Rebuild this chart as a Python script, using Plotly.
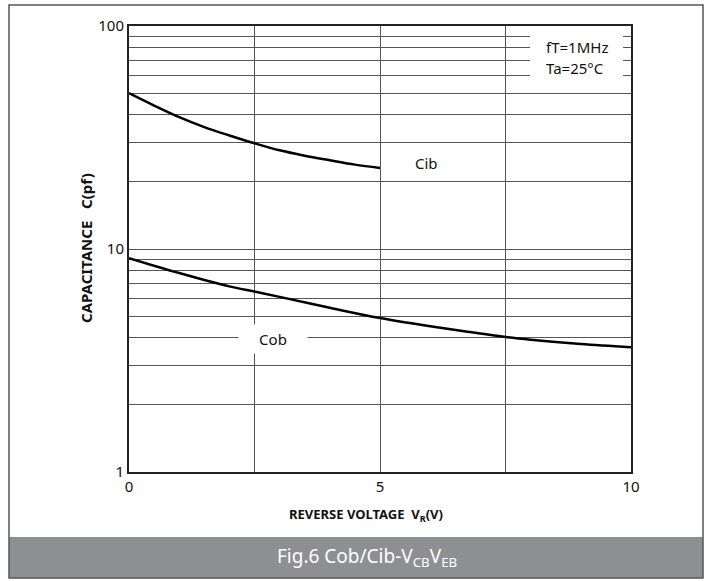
import plotly.graph_objects as go

# Data
cib_v = [0, 0.5, 1, 1.5, 2, 2.5, 3, 3.5, 4, 4.5, 5]
cib_c = [50, 44, 39, 35.2, 32.3, 29.8, 27.7, 26.2, 25.0, 23.9, 23.1]

cob_v = [0, 1, 2, 2.5, 3, 4, 5, 6, 7, 7.5, 8, 9, 10]
cob_c = [9.1, 7.8, 6.8, 6.45, 6.1, 5.45, 4.9, 4.5, 4.18, 4.03, 3.92, 3.75, 3.63]

x_tickvals = [0, 2.5, 5, 7.5, 10]
x_ticktext = ["0", "", "5", "", "10"]
y_tickvals = [1, 2, 3, 4, 5, 6, 7, 8, 9,
              10, 20, 30, 40, 50, 60, 70, 80, 90, 100]
y_ticktext = ["1"] + [""] * 8 + ["10"] + [""] * 8 + ["100"]

FONT = "Noto Sans"

fig = go.Figure()
fig.add_trace(go.Scatter(x=cib_v, y=cib_c, mode="lines", line=dict(color="black", width=2.5, shape="spline"),
                         showlegend=False, hoverinfo="skip"))
fig.add_trace(go.Scatter(x=cob_v, y=cob_c, mode="lines", line=dict(color="black", width=2.5, shape="spline"),
                         showlegend=False, hoverinfo="skip"))

W, H = 712, 581
L, R, T, B = 129, 81, 26, 109
pw, ph = W - L - R, H - T - B

def px(x):
    return (x - L) / pw

def py(y):
    return (H - B - y) / ph

shapes = [
    # white box behind condition text
    dict(type="rect", xref="paper", yref="paper", x0=px(530), x1=px(623), y0=py(82), y1=py(31),
         fillcolor="white", line=dict(width=0), layer="above"),
    # caption bar
    dict(type="rect", xref="paper", yref="paper", x0=px(9), x1=px(703), y0=py(578), y1=py(537),
         fillcolor="#8e8f92", line=dict(width=0), layer="below"),
    # outer frame
    dict(type="rect", xref="paper", yref="paper", x0=px(9), x1=px(703), y0=py(578), y1=py(5),
         fillcolor="rgba(0,0,0,0)", line=dict(color="#555555", width=1.5), layer="above"),
]

annotations = [
    dict(xref="paper", yref="paper", x=px(544), y=py(47), xanchor="left", yanchor="middle",
         text="fT=1MHz", showarrow=False, font=dict(family=FONT, size=15, color="#111")),
    dict(xref="paper", yref="paper", x=px(544), y=py(68), xanchor="left", yanchor="middle",
         text="Ta=25°C", showarrow=False, font=dict(family=FONT, size=15, color="#111")),
    dict(xref="paper", yref="paper", x=px(273), y=py(339), xanchor="center", yanchor="middle",
         text="Cob", showarrow=False, bgcolor="white", width=68, height=28, borderpad=0,
         font=dict(family=FONT, size=15, color="#111")),
    dict(xref="paper", yref="paper", x=px(426), y=py(163), xanchor="center", yanchor="middle",
         text="Cib", showarrow=False, font=dict(family=FONT, size=15, color="#111")),
    dict(xref="paper", yref="paper", x=px(86), y=py(248), xanchor="center", yanchor="middle",
         text="<b>CAPACITANCE\u00a0\u00a0\u00a0C(pf)</b>", textangle=-90, showarrow=False,
         font=dict(family=FONT, size=15, color="#111")),
    dict(xref="paper", yref="paper", x=px(366), y=py(515), xanchor="center", yanchor="middle",
         text="<b>REVERSE VOLTAGE\u00a0\u00a0V<sub>R</sub>(V)</b>", showarrow=False,
         font=dict(family=FONT, size=13, color="#111")),
    dict(xref="paper", yref="paper", x=px(367), y=py(557), xanchor="center", yanchor="middle",
         text="Fig.6 Cob/Cib-V<sub>CB</sub>V<sub>EB</sub>", showarrow=False,
         font=dict(family=FONT, size=19, color="white")),
]

fig.update_layout(
    width=W, height=H,
    margin=dict(l=L, r=R, t=T, b=B, pad=0),
    paper_bgcolor="white", plot_bgcolor="white",
    font=dict(family=FONT, size=15, color="#111"),
    shapes=shapes, annotations=annotations,
    xaxis=dict(range=[0, 10], tickvals=x_tickvals, ticktext=x_ticktext, showgrid=True,
               gridcolor="#555555", gridwidth=1, zeroline=False, showline=True, mirror=True,
               linecolor="#222222", linewidth=2, ticks="", tickfont=dict(family=FONT, size=15)),
    yaxis=dict(type="log", range=[0, 2], tickvals=y_tickvals, ticktext=y_ticktext, showgrid=True,
               gridcolor="#555555", gridwidth=1, zeroline=False, showline=True, mirror=True,
               linecolor="#222222", linewidth=2, ticks="", tickfont=dict(family=FONT, size=15)),
)

fig.write_html("out.html", config={"displayModeBar": False},
               post_script="document.body.style.margin='0';document.body.style.overflow='hidden';")
